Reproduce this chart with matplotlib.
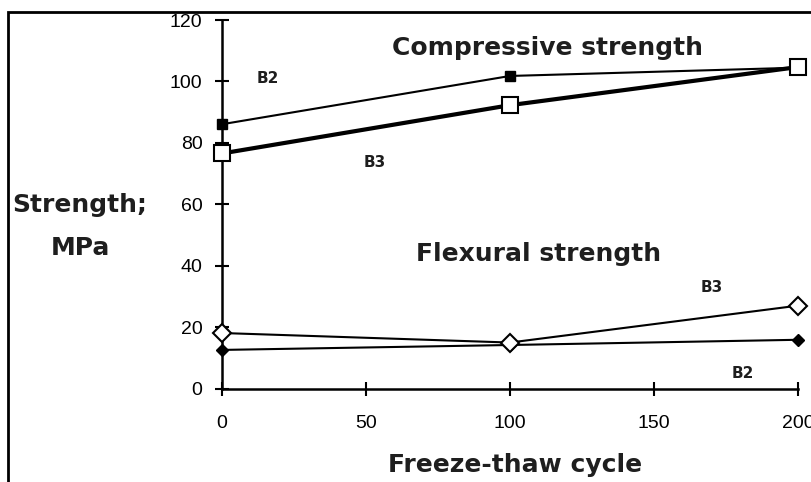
import matplotlib.pyplot as plt
from matplotlib.patches import Rectangle

plt.rcParams['font.family'] = ['Liberation Sans', 'DejaVu Sans']

# freeze-thaw cycles and measured strengths (MPa)
cycles = [0, 100, 200]
comp_b2 = [86.1, 101.8, 104.5]
comp_b3 = [76.6, 92.3, 104.7]
flex_b2 = [12.7, 14.3, 16.0]
flex_b3 = [18.2, 15.1, 27.1]

xticks = [0, 50, 100, 150, 200]
yticks = [0, 20, 40, 60, 80, 100, 120]

fig = plt.figure(figsize=(8.11, 4.82), dpi=100)
ax = fig.add_axes([0.2737, 0.193, 0.7103, 0.7655])

# compressive strength
ax.plot(cycles, comp_b2, color='k', lw=1.5, marker='s', ms=7, mfc='k', clip_on=False)
ax.plot(cycles, comp_b3, color='k', lw=3, marker='s', ms=11, mfc='white', mew=1.5,
        clip_on=False, zorder=3)

# flexural strength
ax.plot(cycles, flex_b2, color='k', lw=1.5, marker='D', ms=6, mfc='k', clip_on=False)
ax.plot(cycles, flex_b3, color='k', lw=1.5, marker='D', ms=9, mfc='white', mew=1.5,
        clip_on=False, zorder=3)

ax.set_xlim(0, 200)
ax.set_ylim(0, 120)
ax.set_xticks(xticks)
ax.set_yticks(yticks)
ax.spines['top'].set_visible(False)
ax.spines['right'].set_visible(False)
ax.spines['left'].set_linewidth(1.8)
ax.spines['bottom'].set_linewidth(1.8)
ax.tick_params(axis='both', direction='inout', length=10, width=1.5, labelsize=14)
ax.tick_params(axis='x', pad=14)
ax.tick_params(axis='y', pad=9)

bold = dict(family='DejaVu Sans', fontweight='bold', color='#1e1e1e')
ax.text(113, 111, 'Compressive strength', fontsize=18, ha='center', va='center', **bold)
ax.text(110, 44, 'Flexural strength', fontsize=18, ha='center', va='center', **bold)
ax.text(16, 101, 'B2', fontsize=11, ha='center', va='center', **bold)
ax.text(53, 73.5, 'B3', fontsize=11, ha='center', va='center', **bold)
ax.text(170, 33, 'B3', fontsize=11, ha='center', va='center', **bold)
ax.text(181, 5, 'B2', fontsize=11, ha='center', va='center', **bold)

fig.text(0.015, 0.574, 'Strength;', fontsize=18, ha='left', va='center', **bold)
fig.text(0.099, 0.485, 'MPa', fontsize=18, ha='center', va='center', **bold)
fig.text(0.635, 0.035, 'Freeze-thaw cycle', fontsize=18, ha='center', va='center', **bold)

# outer frame
fig.patches.append(Rectangle((0.010, -0.01), 1.0, 0.985, transform=fig.transFigure,
                             fill=False, ec='k', lw=2))

fig.savefig('out.png', dpi=100)
